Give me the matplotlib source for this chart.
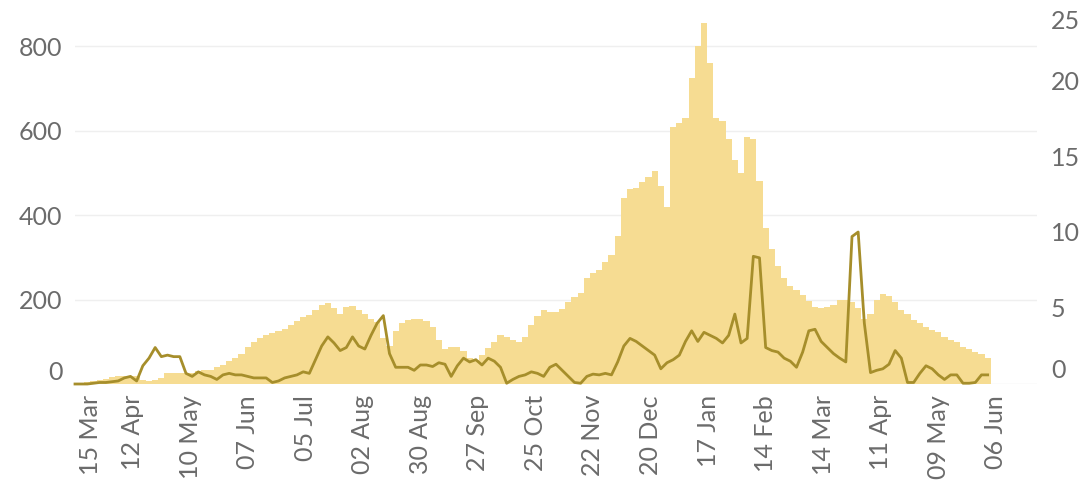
import matplotlib
matplotlib.use("Agg")

import numpy as np
import pandas as pd
import matplotlib.pyplot as plt
import matplotlib.dates as mdates
from matplotlib.transforms import ScaledTranslation

plt.rcParams['font.family'] = ['Lato', 'DejaVu Sans']

# sample dates: every 3 days from 15 Mar 2020
dates = pd.date_range("2020-03-15", periods=149, freq="3D")

# daily cases (left axis), read every 3 days
cases = [
    0, 2, 5, 8, 10, 13, 16, 18, 19, 20,
    18, 10, 8, 10, 15, 25, 27, 27, 26, 27,
    30, 32, 34, 40, 46, 55, 62, 72, 88, 100,
    110, 116, 120, 126, 130, 140, 150, 158, 163, 175,
    188, 193, 180, 165, 182, 185, 176, 165, 155, 148,
    110, 90, 125, 145, 152, 155, 155, 150, 135, 105,
    82, 88, 88, 78, 62, 58, 68, 85, 100, 115,
    112, 105, 100, 112, 140, 160, 175, 170, 170, 178,
    195, 205, 215, 252, 262, 270, 290, 305, 350, 440,
    462, 465, 478, 490, 505, 470, 420, 608, 618, 630,
    725, 800, 855, 760, 630, 622, 580, 530, 500, 585,
    580, 480, 370, 320, 280, 250, 232, 222, 210, 197,
    182, 180, 182, 188, 200, 200, 195, 180, 155, 165,
    200, 213, 208, 195, 175, 165, 152, 145, 135, 128,
    122, 112, 105, 100, 88, 82, 76, 70, 62,
]

# deaths (right axis), read every 3 days
deaths = [
    0, 0, 0, 0.05, 0.1, 0.1, 0.15, 0.2, 0.4, 0.5,
    0.2, 1.2, 1.7, 2.4, 1.8, 1.9, 1.8, 1.8, 0.7, 0.5,
    0.8, 0.6, 0.5, 0.3, 0.6, 0.7, 0.6, 0.6, 0.5, 0.4,
    0.4, 0.4, 0.1, 0.2, 0.4, 0.5, 0.6, 0.8, 0.7, 1.6,
    2.5, 3.1, 2.7, 2.2, 2.4, 3.1, 2.5, 2.3, 3.2, 4.0,
    4.5, 2.0, 1.1, 1.1, 1.1, 0.9, 1.25, 1.25, 1.15, 1.4,
    1.3, 0.5, 1.2, 1.7, 1.45, 1.6, 1.25, 1.7, 1.5, 1.1,
    0.05, 0.3, 0.5, 0.6, 0.8, 0.7, 0.5, 1.1, 1.3, 0.9,
    0.5, 0.1, 0.05, 0.5, 0.65, 0.6, 0.7, 0.6, 1.45, 2.5,
    3.0, 2.8, 2.5, 2.2, 1.9, 1.0, 1.4, 1.6, 1.9, 2.8,
    3.5, 2.8, 3.4, 3.2, 3.0, 2.7, 3.2, 4.6, 2.7, 3.0,
    8.4, 8.3, 2.4, 2.2, 2.1, 1.7, 1.5, 1.1, 2.1, 3.5,
    3.6, 2.8, 2.4, 2.0, 1.7, 1.45, 9.7, 10.0, 4.0, 0.75,
    0.9, 1.0, 1.3, 2.2, 1.7, 0.1, 0.1, 0.7, 1.2, 1.0,
    0.6, 0.3, 0.6, 0.6, 0.05, 0.05, 0.1, 0.6, 0.6,
]

tick_dates = pd.date_range("2020-03-15", "2021-06-06", freq="28D")
left_ticks = [0, 200, 400, 600, 800]
right_ticks = [0, 5, 10, 15, 20, 25]

bar_color = "#f6dc92"
line_color = "#a68e2b"
text_color = "#6b6b6b"

fig = plt.figure(figsize=(10.79, 4.83), dpi=100)
ax = fig.add_axes([75 / 1079, 1 - 384 / 483, (1037 - 75) / 1079, 380 / 483])

ax.bar(dates, cases, width=3.05, color=bar_color, edgecolor="none", zorder=2)
ax.set_ylim(0, 900)
ax.set_yticks(left_ticks)
ax.grid(axis="y", color="#efefef", linewidth=1, zorder=0)
ax.set_axisbelow(True)

ax2 = ax.twinx()
ax2.plot(dates, deaths, color=line_color, linewidth=2, clip_on=False,
         solid_joinstyle="round")
ax2.set_ylim(0, 25)
ax2.set_yticks(right_ticks)

ax.set_xlim(pd.Timestamp("2020-03-15"), pd.Timestamp("2021-06-26"))
ax.set_xticks(tick_dates)
ax.xaxis.set_major_formatter(mdates.DateFormatter("%d %b"))

for a in (ax, ax2):
    for s in a.spines.values():
        s.set_visible(False)
    a.tick_params(length=0, labelsize=18, labelcolor=text_color)
ax.tick_params(axis="y", pad=9)
ax2.tick_params(axis="y", pad=10)
ax.tick_params(axis="x", pad=8)
plt.setp(ax.get_xticklabels(), rotation=90)

# nudge edge labels inward like the original
def nudge(label, dx, dy):
    label.set_transform(label.get_transform() +
                        ScaledTranslation(dx / 72, dy / 72, fig.dpi_scale_trans))

nudge(ax.get_yticklabels()[0], 0, 10)
nudge(ax2.get_yticklabels()[0], 0, 11)
nudge(ax2.get_yticklabels()[-1], 0, -11)
nudge(ax.get_xticklabels()[0], 11, 0)

fig.savefig("out.png", dpi=100)
